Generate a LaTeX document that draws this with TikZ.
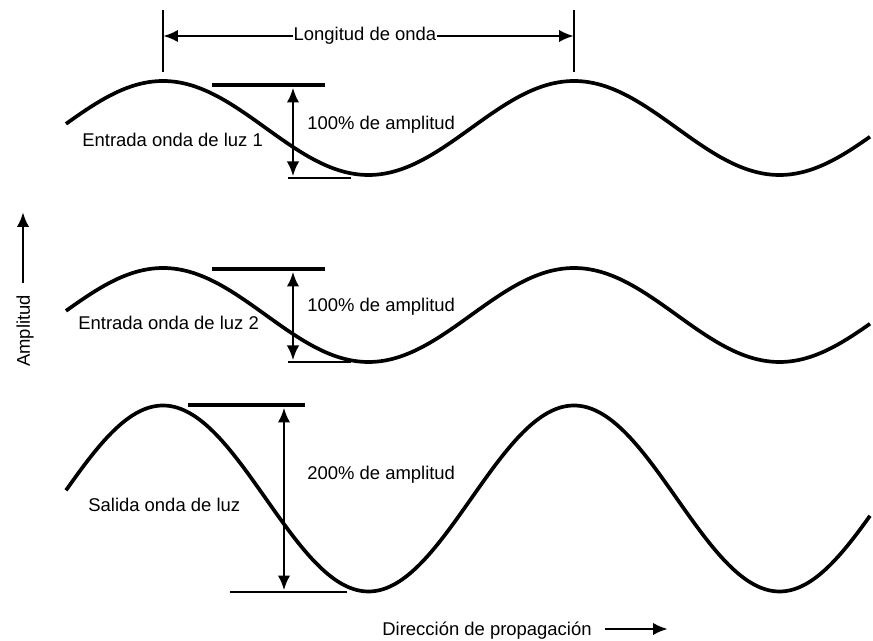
\documentclass[tikz,border=0pt]{standalone}
\usepackage{fontspec}
\setmainfont{Liberation Sans}
\usetikzlibrary{arrows.meta,positioning}
\tikzset{
  wave/.style={line width=2.1pt,draw=black},
  capbar/.style={line width=2.8pt,draw=black},
  basebar/.style={line width=1.5pt,draw=black},
  tickline/.style={line width=1.6pt,draw=black},
  dimarrow/.style={{Latex[length=3mm,width=2.5mm]}-{Latex[length=3mm,width=2.5mm]},line width=1.6pt},
  onearrow/.style={-{Latex[length=3mm,width=2.5mm]},line width=1.6pt},
  lbl/.style={font=\fontsize{10.5}{12}\selectfont,inner sep=0pt}
}

\begin{document}
\begin{tikzpicture}[x=0.02cm,y=-0.02cm]
  \useasboundingbox (0,0) rectangle (873,641);

  % three waves, same phase
  \foreach \yc/\amp in {128/47,315/47,498.5/93}
    \draw[wave] plot[domain=66:870,samples=160,smooth] (\x,{\yc-\amp*cos((\x-163)/411*360)});

  % wavelength
  \node[lbl] (lambda) at (365,36) {Longitud de onda};
  \coordinate (lamL) at (163,36);
  \coordinate (lamR) at (574,36);
  \draw[tickline] (163,10) -- (163,72);
  \draw[tickline] (574,10) -- (574,72);
  \draw[onearrow] (lambda.west) -- (lamL);
  \draw[onearrow] (lambda.east) -- (lamR);

  % amplitude bars
  \foreach \i/\xa/\yt/\yb/\tl/\tr/\bl/\br/\ly/\pct in {
      1/293/85/178/212/325/288/351/125/100,
      2/293/269/362/212/325/288/351/307/100,
      3/284/405/592/188/305/230/347/475/200} {
    \draw[capbar] (\tl,\yt) -- (\tr,\yt);
    \draw[basebar] (\bl,\yb) -- (\br,\yb);
    \coordinate (top\i) at (\xa,\yt+2.5);
    \coordinate (bot\i) at (\xa,\yb-1.5);
    \draw[dimarrow] (top\i) -- (bot\i);
    \node[lbl,anchor=west] (pct\i) at (307,\ly) {\pct\% de amplitud};
  }

  \node[lbl,anchor=west] (in1) at (82,140) {Entrada onda de luz 1};
  \node[lbl,anchor=west] (in2) at (78,323) {Entrada onda de luz 2};
  \node[lbl,anchor=west] (out) at (88,505) {Salida onda de luz};

  % axes
  \node[lbl,rotate=90] (ampl) at (25,331) {Amplitud};
  \coordinate (amplbase) at (23,283);
  \coordinate (ampltip) at (23,212);
  \draw[onearrow] (amplbase) -- (ampltip);

  \node[lbl] (dir) at (487,631) {Dirección de propagación};
  \coordinate (dirbase) at (605,629);
  \coordinate (dirtip) at (668,629);
  \draw[onearrow] (dirbase) -- (dirtip);
\end{tikzpicture}
\end{document}
